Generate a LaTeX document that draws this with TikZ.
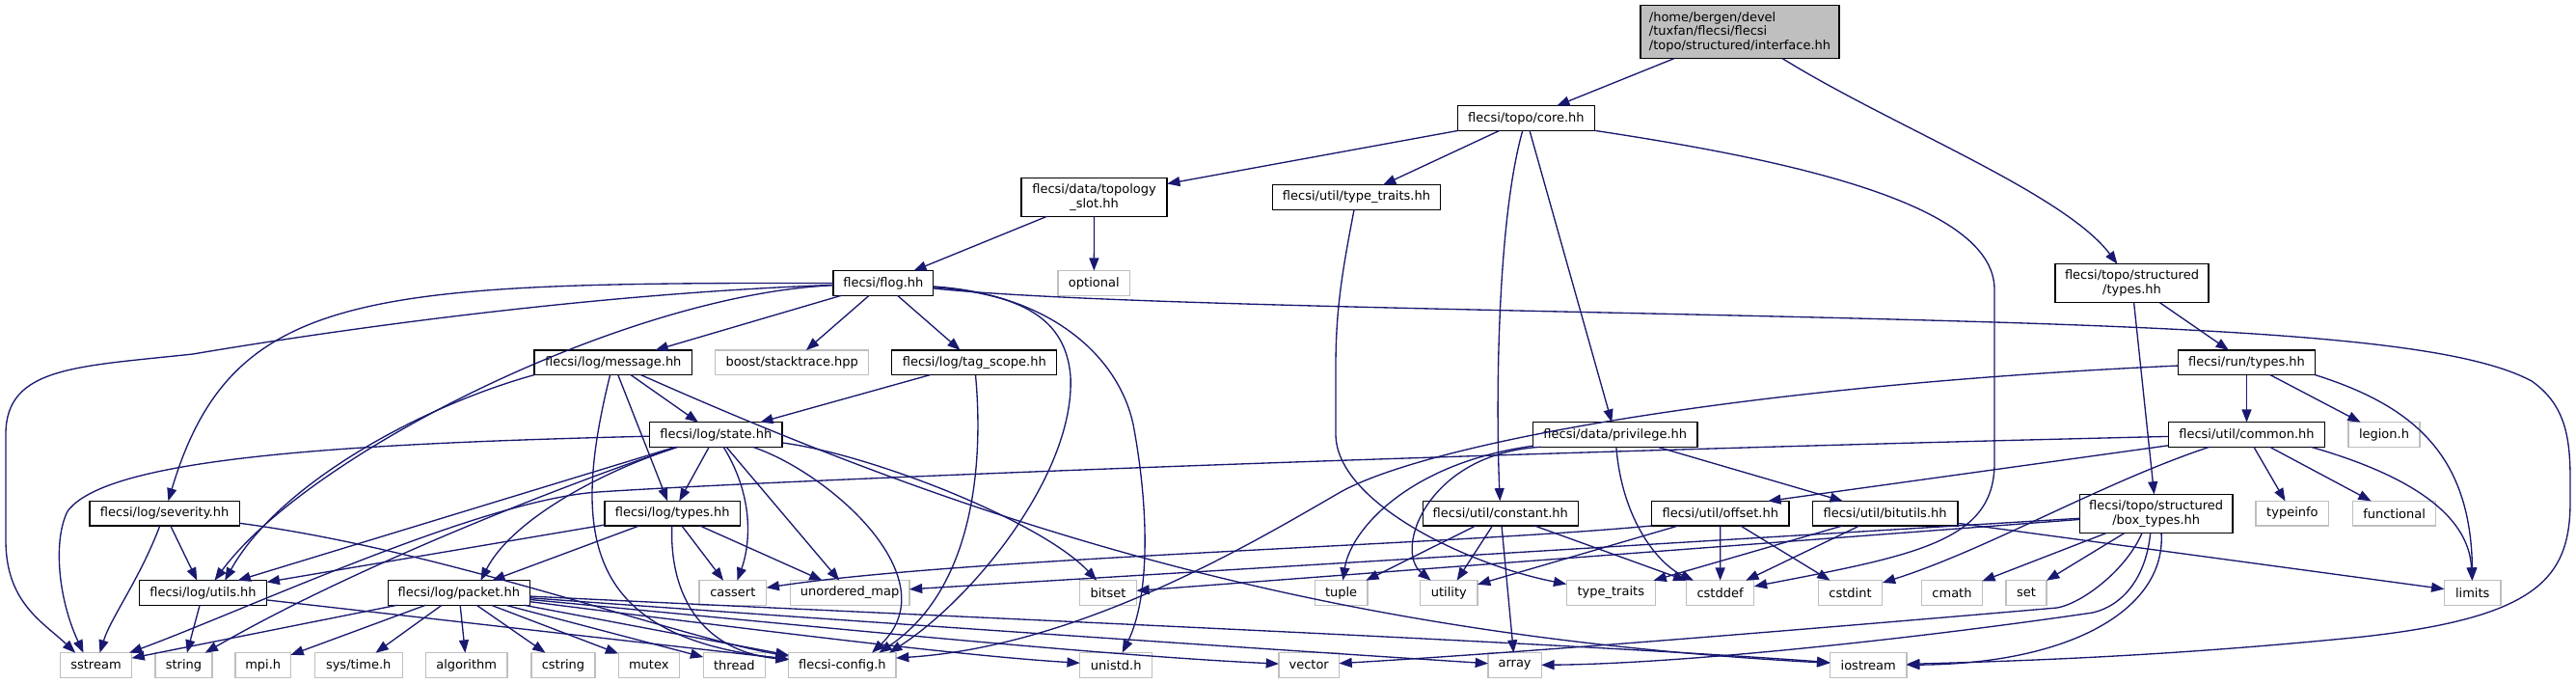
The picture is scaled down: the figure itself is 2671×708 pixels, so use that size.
\documentclass[tikz,border=0pt]{standalone}
\usepackage{fontspec}
\setmainfont{DejaVu Sans}
\usetikzlibrary{arrows.meta}
\definecolor{edgecol}{HTML}{191970}
\definecolor{sysgray}{HTML}{BFBFBF}
\begin{document}
\begin{tikzpicture}[x=0.75pt,y=-0.75pt,
  every node/.style={font=\fontsize{9.75}{11}\selectfont, inner sep=0pt, outer sep=0pt},
  pbox/.style={rectangle, draw=black, line width=1pt, fill=white, minimum height=19.2pt, align=center},
  sys/.style={pbox, draw=sysgray},
  wd/.style={minimum width=#1*0.75pt},
  tall/.style={minimum height=30pt},
  edg/.style={draw=edgecol, line width=1pt, -{Triangle[length=10pt,width=7.5pt]}},
]
\useasboundingbox (0,0) rectangle (2671,708);

% ---------- nodes ----------
\node[pbox, wd=206, minimum height=41.25pt, fill=sysgray, align=left] (root) at (1804,33.2)
  {/home/bergen/devel\\/tuxfan/flecsi/flecsi\\/topo/structured/interface.hh};
\node[pbox, wd=141.8] (core) at (1582.4,122.5) {flecsi/topo/core.hh};
\node[pbox, wd=151, tall] (slot) at (1134.6,204.3) {flecsi/data/topology\\\_slot.hh};
\node[pbox, wd=174.5] (utt) at (1406.5,204.5) {flecsi/util/type\_traits.hh};
\node[pbox, wd=159.2, tall] (stypes) at (2210.5,293.7) {flecsi/topo/structured\\/types.hh};
\node[pbox, wd=103.8] (flog) at (915.9,293.5) {flecsi/flog.hh};
\node[sys, wd=74.6] (optional) at (1134.3,293.5) {optional};

\node[pbox, wd=163.6] (message) at (635.8,375.8) {flecsi/log/message.hh};
\node[sys, wd=159] (boost) at (821.2,375.8) {boost/stacktrace.hpp};
\node[pbox, wd=171] (tagscope) at (1010.3,375.8) {flecsi/log/tag\_scope.hh};
\node[pbox, wd=142] (runtypes) at (2329.5,375.8) {flecsi/run/types.hh};

\node[pbox, wd=137.7] (state) at (742.3,450.5) {flecsi/log/state.hh};
\node[pbox, wd=170.5] (privilege) at (1674.8,450.5) {flecsi/data/privilege.hh};
\node[pbox, wd=162.6] (common) at (2329.5,450.5) {flecsi/util/common.hh};
\node[sys, wd=74] (legion) at (2472,450.5) {legion.h};

\node[pbox, wd=155.3] (severity) at (170.6,532.2) {flecsi/log/severity.hh};
\node[pbox, wd=140.6] (ltypes) at (697.2,532.2) {flecsi/log/types.hh};
\node[pbox, wd=161] (constant) at (1555.8,532.2) {flecsi/util/constant.hh};
\node[pbox, wd=142.5] (offset) at (1783.8,532.2) {flecsi/util/offset.hh};
\node[pbox, wd=150.8] (bitutils) at (1954.6,532.2) {flecsi/util/bitutils.hh};
\node[pbox, wd=158.5, tall] (boxtypes) at (2235.7,532.5) {flecsi/topo/structured\\/box\_types.hh};
\node[sys, wd=75.8] (typeinfo) at (2376.9,532.2) {typeinfo};
\node[sys, wd=86.2] (functional) at (2482.6,532.2) {functional};

\node[pbox, wd=132.3] (utils) at (210.5,614.5) {flecsi/log/utils.hh};
\node[pbox, wd=146.9] (packet) at (475.8,614.5) {flecsi/log/packet.hh};
\node[sys, wd=69.6] (cassert) at (759.8,614.5) {cassert};
\node[sys, wd=123.6] (umap) at (881.1,614.5) {unordered\_map};
\node[sys, wd=58.7] (bitset) at (1149,614.5) {bitset};
\node[sys, wd=54.8] (tuple) at (1390.6,614.5) {tuple};
\node[sys, wd=59.4] (utility) at (1502.3,614.5) {utility};
\node[sys, wd=92] (typetraits) at (1670.3,614.5) {type\_traits};
\node[sys, wd=70.4] (cstddef) at (1783.6,614.5) {cstddef};
\node[sys, wd=66.6] (cstdint) at (1918.5,614.5) {cstdint};
\node[sys, wd=62.5] (cmath) at (2024,614.5) {cmath};
\node[sys, wd=42] (stdset) at (2101,614.5) {set};
\node[sys, wd=58.6] (limits) at (2563.7,614.5) {limits};

\node[sys, wd=74] (sstream) at (99.5,689.5) {sstream};
\node[sys, wd=59] (strng) at (190.5,689.5) {string};
\node[sys, wd=57.5] (mpih) at (272.7,689.5) {mpi.h};
\node[sys, wd=91] (systime) at (371.7,689.5) {sys/time.h};
\node[sys, wd=84.7] (algorithm) at (483.7,689.5) {algorithm};
\node[sys, wd=66] (cstring) at (584,689.5) {cstring};
\node[sys, wd=63.2] (mutex) at (672.8,689.5) {mutex};
\node[sys, wd=64.3] (thread) at (761.4,689.5) {thread};
\node[sys, wd=111.2] (fconfig) at (873.4,689.5) {flecsi-config.h};
\node[sys, wd=74.8] (unistd) at (1157.2,689.5) {unistd.h};
\node[sys, wd=62.4] (vector) at (1357.2,689.5) {vector};
\node[sys, wd=55.2] (array) at (1570.6,689.5) {array};
\node[sys, wd=79.7] (iostream) at (1937.2,689.5) {iostream};

% ---------- edges ----------
\draw[edg] (root) -- (core);
\draw[edg] (root) .. controls (1960,130) and (2140,200) .. (stypes);

\draw[edg] (core) -- (slot);
\draw[edg] (core) -- (utt);
\draw[edg] (core) .. controls (1552,230) and (1551,420) .. (constant);
\draw[edg] (core) -- (privilege);
\draw[edg] (core.south east) .. controls (1850,165) and (2068,210) .. (2068,300) -- (2068,480)
  .. controls (2068,560) and (1990,575) .. (cstddef);

\draw[edg] (utt) .. controls (1392,280) and (1385,320) .. (1385,380) -- (1385,450)
  .. controls (1385,520) and (1520,585) .. (typetraits);

\draw[edg] (slot) -- (flog);
\draw[edg] (slot) -- (optional);
\draw[edg] (stypes) -- (runtypes);
\draw[edg] (stypes) -- (boxtypes);

\draw[edg] (flog) -- (message);
\draw[edg] (flog) -- (boost);
\draw[edg] (flog) -- (tagscope);
\draw[edg] (flog) .. controls (380,293) and (240,300) .. (severity);
\draw[edg] (flog) .. controls (600,305) and (330,345) .. (200,367)
  .. controls (80,380) and (6,380) .. (6,450) -- (6,560)
  .. controls (6,625) and (45,645) .. ([xshift=-16pt]sstream.north);
\draw[edg] (flog) .. controls (650,305) and (320,470) .. ([xshift=9pt]utils.north);
\draw[edg] (flog) .. controls (1060,305) and (1105,330) .. (1110,390)
  .. controls (1115,490) and (1010,620) .. ([xshift=36.5pt]fconfig.north);
\draw[edg] (flog) .. controls (1090,305) and (1160,370) .. (1175,440)
  .. controls (1192,530) and (1192,620) .. (unistd);
\draw[edg] (flog) .. controls (1150,318) and (1700,322) .. (2100,335)
  .. controls (2400,345) and (2560,360) .. (2625,395)
  .. controls (2668,425) and (2665,470) .. (2665,520)
  .. controls (2665,600) and (2630,640) .. (2450,660)
  .. controls (2250,680) and (2100,685) .. (iostream);

\draw[edg] (message) -- (state);
\draw[edg] (message) -- (ltypes);
\draw[edg] (message.south west) .. controls (440,420) and (290,500) .. ([xshift=17pt]utils.north);
\draw[edg] (message) .. controls (590,560) and (610,660) .. (fconfig);
\draw[edg] (message) .. controls (1050,560) and (1400,660) .. (iostream);

\draw[edg] (tagscope) -- (state);
\draw[edg] (tagscope) .. controls (1020,480) and (1010,610) .. ([xshift=28.5pt]fconfig.north);

\draw[edg] (state) .. controls (350,460) and (110,475) .. (70,530)
  .. controls (55,560) and (60,620) .. ([xshift=-9.75pt]sstream.north);
\draw[edg] (state) -- ([xshift=27pt]utils.north);
\draw[edg] (state) .. controls (620,490) and (380,580) .. (strng);
\draw[edg] (state) .. controls (620,490) and (530,540) .. ([xshift=17pt]packet.north);
\draw[edg] (state) -- (ltypes);
\draw[edg] (state) .. controls (785,520) and (776,570) .. (cassert);
\draw[edg] (state) -- (umap);
\draw[edg] (state) .. controls (860,490) and (985,600) .. ([xshift=23pt]fconfig.north);
\draw[edg] (state) .. controls (900,470) and (1080,540) .. (bitset);

\draw[edg] (ltypes) -- (utils);
\draw[edg] (ltypes) -- (packet);
\draw[edg] (ltypes) -- (cassert);
\draw[edg] (ltypes) -- (umap);
\draw[edg] (ltypes) .. controls (694,620) and (730,675) .. (fconfig);

\draw[edg] (severity) .. controls (145,600) and (115,640) .. (sstream);
\draw[edg] (severity) -- (utils);
\draw[edg] (severity) .. controls (460,570) and (700,660) .. (fconfig);

\draw[edg] (utils) -- (strng);
\draw[edg] (utils) -- (fconfig);

\draw[edg] (packet) -- (sstream);
\draw[edg] (packet) -- (mpih);
\draw[edg] (packet) -- (systime);
\draw[edg] (packet) -- (algorithm);
\draw[edg] (packet) -- (cstring);
\draw[edg] (packet) -- (mutex);
\draw[edg] (packet) -- (thread);
\draw[edg] (packet) -- (fconfig);
\draw[edg] (packet) .. controls (800,655) and (1000,680) .. (unistd);
\draw[edg] (packet) .. controls (850,650) and (1150,680) .. (vector);
\draw[edg] (packet) .. controls (900,645) and (1300,672) .. (array);
\draw[edg] (packet) .. controls (1000,640) and (1600,665) .. (iostream);

\draw[edg] (privilege) .. controls (1460,480) and (1400,550) .. (tuple);
\draw[edg] ([xshift=6pt]privilege.south west) .. controls (1480,470) and (1445,570) .. ([xshift=-14pt]utility.north);
\draw[edg] (privilege) .. controls (1682,540) and (1720,585) .. (cstddef);
\draw[edg] (privilege) -- (bitutils);

\draw[edg] (constant) -- (tuple);
\draw[edg] (constant) -- (utility);
\draw[edg] (constant) -- (array);
\draw[edg] (constant) -- (cstddef);

\draw[edg] (offset.south west) .. controls (1500,565) and (1000,578) .. (cassert);
\draw[edg] (offset) -- (utility);
\draw[edg] (offset) -- (cstddef);
\draw[edg] (offset) -- (cstdint);

\draw[edg] (bitutils) -- (typetraits);
\draw[edg] (bitutils) -- (cstddef);
\draw[edg] (bitutils) -- (limits);

\draw[edg] (runtypes) -- (common);
\draw[edg] (runtypes) -- (legion);
\draw[edg] (runtypes.south east) .. controls (2500,420) and (2562,470) .. (limits);
\draw[edg] (runtypes) .. controls (1800,400) and (1480,460) .. (1390,510)
  .. controls (1300,562) and (1120,670) .. ([yshift=5.6pt]fconfig.east);

\draw[edg] (common) .. controls (1500,470) and (800,498) .. (620,510)
  .. controls (500,518) and (260,630) .. (sstream);
\draw[edg] (common) -- ([xshift=37pt]offset.north);
\draw[edg] (common) .. controls (2180,500) and (2060,570) .. (cstdint);
\draw[edg] (common) -- (typeinfo);
\draw[edg] (common) -- (functional);
\draw[edg] ([xshift=-11pt]common.south east) .. controls (2490,490) and (2560,530) .. (limits);

\draw[edg] (boxtypes) -- (bitset);
\draw[edg] (boxtypes) -- (umap);
\draw[edg] (boxtypes) -- (cmath);
\draw[edg] (boxtypes) -- (stdset);
\draw[edg] ([xshift=-11pt]boxtypes.south) .. controls (2205,590) and (2160,625) .. (2133,630)
  .. controls (1900,650) and (1600,675) .. (vector);
\draw[edg] ([xshift=-4.5pt]boxtypes.south) .. controls (2225,600) and (2200,628) .. (2170,635)
  .. controls (2000,660) and (1750,688) .. (array);
\draw[edg] ([xshift=4pt]boxtypes.south) .. controls (2246,630) and (2150,688) .. (iostream);
\end{tikzpicture}
\end{document}
